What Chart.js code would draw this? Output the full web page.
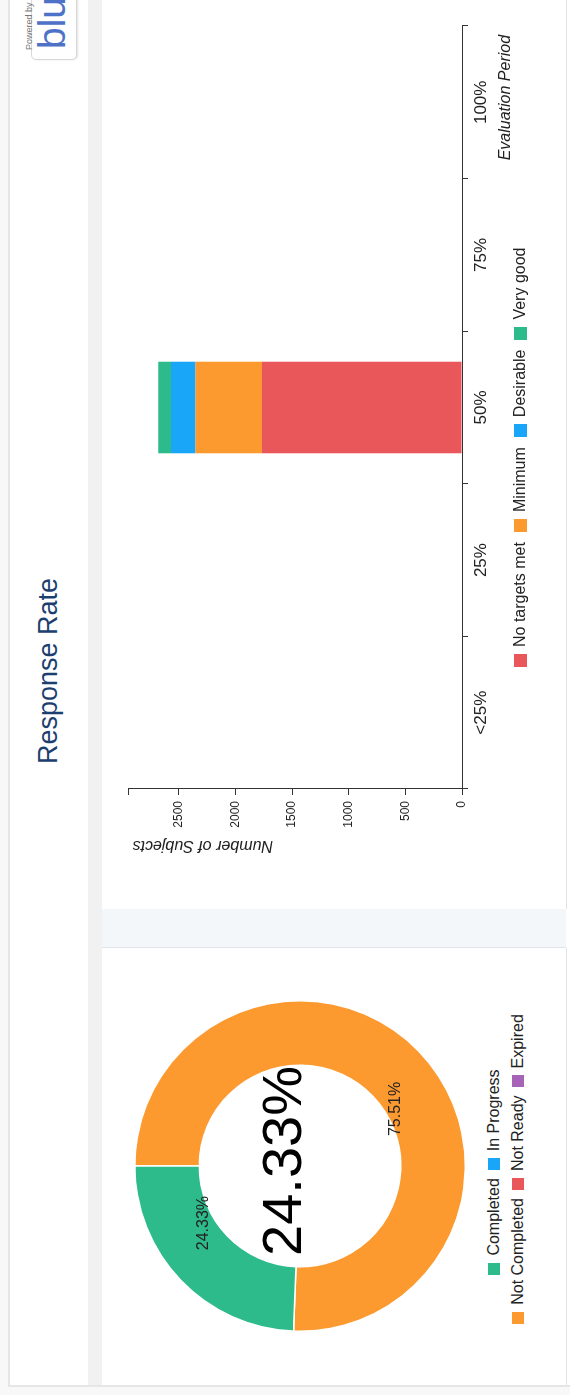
<!DOCTYPE html>
<html>
<head>
<meta charset="utf-8">
<script src="https://cdn.jsdelivr.net/npm/chart.js@4.4.0/dist/chart.umd.min.js"></script>
<style>
  html, body { margin: 0; padding: 0; background: #fff; overflow: hidden; }
  body { width: 570px; height: 1395px; position: relative; font-family: "Liberation Sans", Arial, sans-serif; }
  /* the page is laid out landscape and turned a quarter turn */
  #page { position: absolute; left: 0; top: 0; width: 1395px; height: 570px; transform-origin: 0 0;
          transform: translateY(1395px) rotate(-90deg); background: #f8f8f8; overflow: hidden; }
  #frame { position: absolute; left: 8px; top: 8px; width: 1400px; height: 570px; background: #fff;
           border-left: 2px solid #e6e6e6; border-top: 2px solid #e6e6e6; }
  #band { position: absolute; left: 10px; top: 88px; width: 1400px; height: 14px; background: #f1f1f1; }
  .panel { position: absolute; top: 102px; height: 464px; background: #fff; border-bottom: 1px solid #e2e5e8; }
  #sep { position: absolute; left: 447px; top: 102px; width: 38px; height: 464px; background: #f4f7f9;
         border-left: 1px solid #e0e4e8; border-right: 1px solid #e0e4e8; }
  #title { position: absolute; left: 0; top: 35px; width: 1448px; text-align: center; font-size: 27px;
           line-height: 27px; color: #1d3f6f; }
  #logo { position: absolute; left: 1335px; top: 31px; width: 90px; height: 44px; border: 1px solid #d8d8d8;
          border-radius: 5px; background: #fff; box-shadow: 0 1px 2px rgba(0,0,0,.12); }
  #logo .pw { position: absolute; left: 9px; top: -8px; font-size: 9px; color: #777; }
  #logo .bl { position: absolute; left: 10px; top: 0px; font-size: 39px; line-height: 40px; color: #4f72c9; }
  canvas { position: absolute; }
  .legend { position: absolute; display: flex; align-items: center; font-size: 16px; line-height: 20px; color: #222; white-space: nowrap; }
  .legend .it { display: flex; align-items: center; }
  .legend .sw { display: inline-block; margin-right: 7px; }
</style>
</head>
<body>
<div id="page">
  <div id="frame"></div>
  <div id="band"></div>
  <div class="panel" style="left:10px;width:437px"></div>
  <div id="sep"></div>
  <div class="panel" style="left:486px;width:920px"></div>
  <div id="title">Response Rate</div>
  <div id="logo"><span class="pw">Powered by</span><span class="bl">blue</span></div>

  <canvas id="donut" width="332" height="332" style="left:63px;top:134px;width:332px;height:332px"></canvas>
  <div id="donutLegend1" class="legend" style="left:0;width:446px;top:484px;justify-content:center"></div>
  <div id="donutLegend2" class="legend" style="left:0;width:452px;top:508px;justify-content:center"></div>

  <canvas id="bars" width="880" height="440" style="left:500px;top:100px;width:880px;height:440px"></canvas>
  <div id="barLegend" class="legend" style="left:728px;top:510px"></div>
</div>

<script>
  // ---- response status (doughnut) ----
  const statusLabels = ['Completed', 'In Progress', 'Not Completed', 'Not Ready', 'Expired'];
  const statusValues = [24.33, 0, 75.51, 0, 0];
  const statusColors = ['#2ebb8b', '#1aa6f8', '#fd9a2f', '#ea575a', '#a763b8'];
  const centreValue = 24.33;

  // ---- subjects by evaluation period (stacked bars) ----
  const periods = ['<25%', '25%', '50%', '75%', '100%'];
  const levelNames = ['No targets met', 'Minimum', 'Desirable', 'Very good'];
  const levelColors = ['#ea575a', '#fd9a2f', '#1aa6f8', '#2ebb8b'];
  const noTargets = [0, 0, 1766, 0, 0];
  const minimum   = [0, 0, 588, 0, 0];
  const desirable = [0, 0, 215, 0, 0];
  const veryGood  = [0, 0, 112, 0, 0];
  const valueTicks = [0, 500, 1000, 1500, 2000, 2500];

  const FONT = '"Liberation Sans", Arial, sans-serif';
  Chart.defaults.font.family = FONT;
  Chart.defaults.color = '#222';
  Chart.defaults.animation = false;

  function swatchLegend(el, names, colors, size, gap) {
    el.style.gap = gap + 'px';
    el.innerHTML = names.map((n, i) =>
      `<span class="it"><span class="sw" style="width:${size}px;height:${size}px;background:${colors[i]}"></span>${n}</span>`).join('');
  }

  // doughnut draws largest slice first from 12 o'clock, like the source
  const order = statusValues.map((v, i) => i).sort((a, b) => statusValues[b] - statusValues[a]);

  const arcText = {
    id: 'arcText',
    afterDatasetsDraw(chart) {
      const ctx = chart.ctx;
      const meta = chart.getDatasetMeta(0);
      const vals = chart.data.datasets[0].data;
      const a = chart.chartArea;
      const cx = (a.left + a.right) / 2, cy = (a.top + a.bottom) / 2;
      ctx.save();
      ctx.fillStyle = '#222';
      ctx.textBaseline = 'middle';
      ctx.font = '16px ' + FONT;
      meta.data.forEach((arc, i) => {
        if (vals[i] <= 0) return;
        const p = arc.getCenterPoint();
        // text hangs from the arc centre toward the middle of the ring
        const right = p.x > cx;
        ctx.textAlign = right ? 'right' : 'left';
        ctx.fillText(vals[i].toFixed(2) + '%', p.x + (right ? -8 : 8), p.y);
      });
      ctx.fillStyle = '#000';
      ctx.textAlign = 'center';
      ctx.font = '56px ' + FONT;
      ctx.fillText(centreValue.toFixed(2) + '%', cx + 5, cy - 14);
      ctx.restore();
    }
  };

  new Chart(document.getElementById('donut'), {
    type: 'doughnut',
    data: {
      labels: order.map(i => statusLabels[i]),
      datasets: [{
        data: order.map(i => statusValues[i]),
        backgroundColor: order.map(i => statusColors[i]),
        borderColor: '#fff',
        borderWidth: 1.5
      }]
    },
    options: {
      responsive: false,
      cutout: '61%',
      plugins: { legend: { display: false }, tooltip: { enabled: false } }
    },
    plugins: [arcText]
  });

  swatchLegend(document.getElementById('donutLegend1'), statusLabels.slice(0, 2), statusColors.slice(0, 2), 12, 8);
  swatchLegend(document.getElementById('donutLegend2'), statusLabels.slice(2), statusColors.slice(2), 12, 8);

  const stackTotal = Math.max(...periods.map((p, i) => noTargets[i] + minimum[i] + desirable[i] + veryGood[i]));
  const axisColor = '#333';

  new Chart(document.getElementById('bars'), {
    type: 'bar',
    data: {
      labels: periods,
      datasets: [noTargets, minimum, desirable, veryGood].map((d, k) => ({
        label: levelNames[k], data: d, backgroundColor: levelColors[k],
        borderWidth: 0, barPercentage: 0.6, categoryPercentage: 1
      }))
    },
    options: {
      responsive: false,
      layout: { padding: { left: 40, right: 11, top: 28, bottom: 0 } },
      plugins: { legend: { display: false }, tooltip: { enabled: false } },
      scales: {
        x: {
          stacked: true, offset: true,
          grid: { offset: true, drawOnChartArea: false, tickLength: 6, color: axisColor },
          border: { display: true, color: axisColor },
          ticks: { font: { size: 17 }, padding: 3, color: '#222', maxRotation: 0, autoSkip: false },
          title: { display: true, text: 'Evaluation Period  ', align: 'end',
                   font: { size: 16, style: 'italic' }, color: '#222', padding: { top: 0, bottom: 25 } },
          afterFit: s => { s.height = 78; }
        },
        y: {
          stacked: true, min: 0, max: stackTotal * 1.1,
          grid: { drawOnChartArea: false, tickLength: 6, color: axisColor },
          border: { display: true, color: axisColor },
          // round ticks plus an unlabelled end tick at the top of the domain
          afterBuildTicks: s => { s.ticks = valueTicks.map(v => ({ value: v })).concat([{ value: s.max }]); },
          ticks: { autoSkip: false, font: { size: 12 }, padding: 6, color: '#222',
                   callback: v => valueTicks.includes(v) ? String(v) : '' },
          title: { display: true, text: 'Number of Subjects ', align: 'end',
                   font: { size: 16, style: 'italic' }, color: '#222', padding: { top: 0, bottom: 0 } },
          afterFit: s => { s.width = 66; }
        }
      }
    }
  });

  swatchLegend(document.getElementById('barLegend'), levelNames, levelColors, 13, 10);
</script>
</body>
</html>
